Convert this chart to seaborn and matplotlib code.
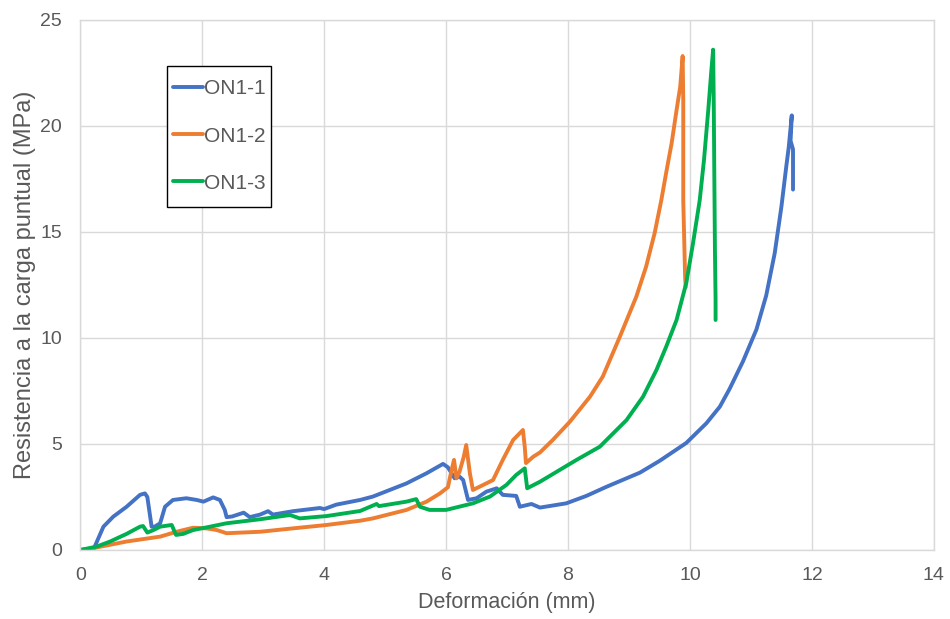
import matplotlib
matplotlib.use("Agg")
import matplotlib.pyplot as plt
from matplotlib.patches import Rectangle
import seaborn as sns
import pandas as pd

# ON1-1
x_on1_1 = [0, 0.22, 0.38, 0.54, 0.76, 0.98, 1.06, 1.1, 1.17, 1.22, 1.31, 1.39, 1.52, 1.74,
           1.91, 2.02, 2.18, 2.29, 2.37, 2.4, 2.49, 2.68, 2.78, 2.95, 3.08, 3.16, 3.49, 3.93,
           4.0, 4.2, 4.59, 4.8, 5.35, 5.68, 5.95, 6.03, 6.14, 6.22, 6.28, 6.36, 6.5, 6.66,
           6.83, 6.93, 7.15, 7.21, 7.4, 7.54, 7.97, 8.3, 8.63, 9.18, 9.5, 9.94, 10.27, 10.49,
           10.65, 10.87, 11.09, 11.25, 11.39, 11.5, 11.58, 11.62, 11.67, 11.65, 11.69, 11.69]
y_on1_1 = [0, 0.05, 1.1, 1.57, 2.04, 2.6, 2.67, 2.5, 1.1, 1.1, 1.26, 2.04, 2.36, 2.44,
           2.36, 2.28, 2.48, 2.36, 1.89, 1.55, 1.58, 1.76, 1.55, 1.67, 1.83, 1.67, 1.83, 1.98,
           1.93, 2.14, 2.36, 2.52, 3.14, 3.62, 4.06, 3.9, 3.38, 3.46, 3.3, 2.36, 2.44, 2.75,
           2.91, 2.6, 2.55, 2.04, 2.17, 2.0, 2.2, 2.55, 2.98, 3.65, 4.2, 5.05, 5.98, 6.76,
           7.6, 8.9, 10.4, 12.0, 14.0, 16.2, 18.1, 19.0, 20.5, 19.3, 18.9, 17.0]

# ON1-2
x_on1_2 = [0, 0.2, 0.76, 1.31, 1.58, 1.85, 2.07, 2.24, 2.4, 2.95, 3.49, 4.04, 4.59, 4.8,
           5.35, 5.68, 5.9, 6.03, 6.09, 6.13, 6.17, 6.22, 6.29, 6.33, 6.39, 6.44, 6.61, 6.77,
           6.93, 7.1, 7.26, 7.29, 7.31, 7.43, 7.54, 7.75, 8.03, 8.36, 8.57, 8.85, 9.12, 9.28,
           9.42, 9.53, 9.61, 9.7, 9.78, 9.84, 9.88, 9.89, 9.89, 9.92, 9.93]
y_on1_2 = [0, 0.08, 0.4, 0.63, 0.86, 1.05, 1.02, 0.94, 0.79, 0.86, 1.02, 1.18, 1.38, 1.49,
           1.89, 2.28, 2.67, 2.96, 3.77, 4.25, 3.38, 3.69, 4.4, 4.95, 3.62, 2.83, 3.07, 3.3,
           4.25, 5.19, 5.66, 4.87, 4.1, 4.4, 4.6, 5.19, 6.05, 7.23, 8.18, 10.06, 11.95, 13.36,
           14.94, 16.5, 17.8, 19.2, 20.75, 21.85, 23.3, 21.2, 16.5, 12.9, 12.4]

# ON1-3
x_on1_3 = [0, 0.27, 0.49, 0.76, 0.98, 1.03, 1.1, 1.2, 1.31, 1.5, 1.57, 1.69, 1.85, 2.13,
           2.4, 2.95, 3.44, 3.6, 4.04, 4.59, 4.86, 4.9, 5.35, 5.51, 5.57, 5.73, 6.0, 6.44,
           6.72, 6.99, 7.15, 7.29, 7.33, 7.54, 8.14, 8.52, 8.96, 9.23, 9.45, 9.61, 9.78,
           9.94, 10.05, 10.16, 10.23, 10.3, 10.35, 10.38, 10.39, 10.4, 10.41, 10.42, 10.42]
y_on1_3 = [0, 0.16, 0.4, 0.76, 1.1, 1.13, 0.82, 0.94, 1.1, 1.18, 0.71, 0.76, 0.94, 1.1,
           1.26, 1.45, 1.65, 1.49, 1.6, 1.84, 2.17, 2.07, 2.28, 2.4, 2.04, 1.89, 1.89, 2.2,
           2.52, 3.07, 3.54, 3.85, 2.91, 3.22, 4.25, 4.87, 6.13, 7.23, 8.49, 9.59, 10.85,
           12.6, 14.47, 16.5, 18.4, 20.75, 22.6, 23.6, 21.1, 17.45, 14.0, 11.8, 10.85]

series = ["ON1-1", "ON1-2", "ON1-3"]
colores = ["#4472C4", "#ED7D31", "#00B050"]

frames = []
for nombre, xs, ys in zip(series, [x_on1_1, x_on1_2, x_on1_3], [y_on1_1, y_on1_2, y_on1_3]):
    frames.append(pd.DataFrame({"x": xs, "y": ys, "serie": nombre}))
df = pd.concat(frames, ignore_index=True)

sns.set_style("white")
plt.rcParams["font.family"] = ["Liberation Sans", "DejaVu Sans"]
gris = "#595959"

fig = plt.figure(figsize=(9.5, 6.19), dpi=100)
ax = fig.add_axes([0.0845, 0.1115, 0.8985, 0.8562])

sns.lineplot(data=df, x="x", y="y", hue="serie", palette=colores, sort=False,
             estimator=None, units="serie", linewidth=2.8, ax=ax)
for ln in ax.lines:
    ln.set_solid_joinstyle("round")
    ln.set_solid_capstyle("round")

ax.set_xlim(0, 14)
ax.set_ylim(0, 25)
ax.set_xticks(range(0, 15, 2))
ax.set_yticks(range(0, 26, 5))
ax.grid(True, color="#D9D9D9", linewidth=1)
ax.set_axisbelow(True)
for s in ax.spines.values():
    s.set_color("#D9D9D9")
    s.set_linewidth(1)
ax.tick_params(axis="both", labelsize=14, colors=gris, length=0)
ax.tick_params(axis="x", pad=12)
ax.tick_params(axis="y", pad=13)

ax.set_xlabel("Deformación (mm)", fontsize=15.5, color=gris, labelpad=6)
ax.set_ylabel("Resistencia a la carga puntual (MPa)", fontsize=17, color=gris, labelpad=3)

# recuadro de la leyenda
ax.add_patch(Rectangle((0.102, 0.647), 0.122, 0.266, transform=ax.transAxes,
                       facecolor="white", edgecolor="black", linewidth=1, zorder=5))
leg = ax.legend(loc="center", bbox_to_anchor=(0.163, 0.781), fontsize=15,
                frameon=False, handlelength=1.45, handletextpad=0.05,
                labelspacing=1.35, borderpad=0, borderaxespad=0)
leg.set_zorder(6)
for t in leg.get_texts():
    t.set_color(gris)
for h in leg.get_lines():
    h.set_linewidth(2.8)

fig.savefig("out.png", dpi=100)
